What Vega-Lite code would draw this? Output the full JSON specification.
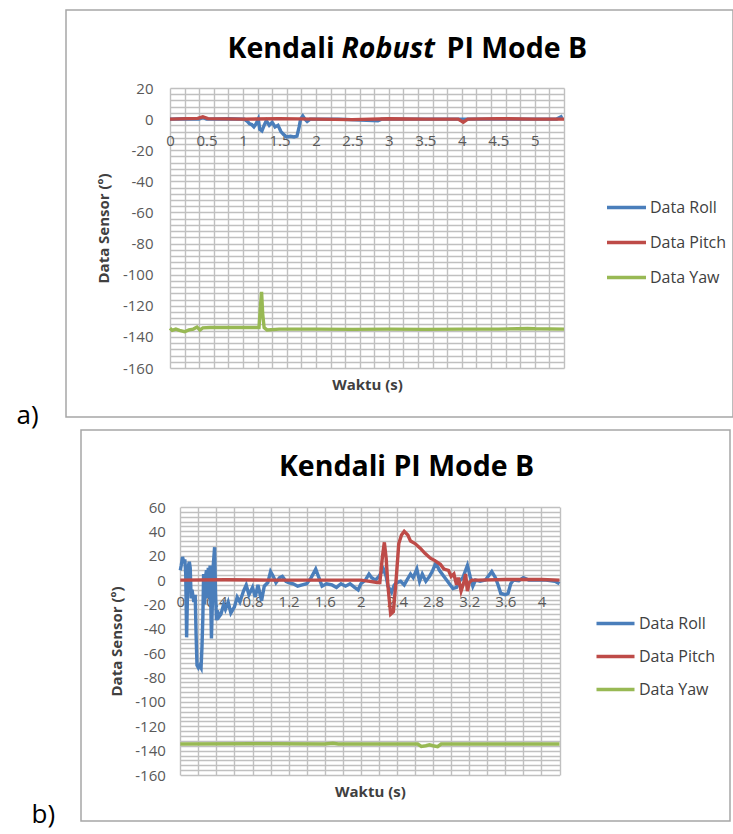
{
  "$schema": "https://vega.github.io/schema/vega-lite/v6.json",
  "padding": {"left": 15, "top": 9, "right": 0, "bottom": 4},
  "background": "white",
  "config": {
    "font": "Open Sans",
    "view": {"stroke": null},
    "axis": {"labelFont": "Open Sans", "titleFont": "Open Sans"},
    "legend": {"labelFont": "Open Sans"}
  },
  "datasets": {
    "a": [
      {"t":0,"v":0,"s":"Data Roll"},{"t":0.2,"v":0.2,"s":"Data Roll"},{"t":0.4,"v":0,"s":"Data Roll"},{"t":0.45,"v":1,"s":"Data Roll"},{"t":0.5,"v":0,"s":"Data Roll"},{"t":0.8,"v":0.2,"s":"Data Roll"},{"t":1.02,"v":0,"s":"Data Roll"},{"t":1.06,"v":-1.5,"s":"Data Roll"},{"t":1.09,"v":-3,"s":"Data Roll"},{"t":1.12,"v":-3.5,"s":"Data Roll"},{"t":1.15,"v":-5,"s":"Data Roll"},{"t":1.18,"v":-3,"s":"Data Roll"},{"t":1.21,"v":0,"s":"Data Roll"},{"t":1.23,"v":-6.5,"s":"Data Roll"},{"t":1.26,"v":-7.5,"s":"Data Roll"},{"t":1.29,"v":-4,"s":"Data Roll"},{"t":1.32,"v":-1,"s":"Data Roll"},{"t":1.36,"v":-4,"s":"Data Roll"},{"t":1.4,"v":-2,"s":"Data Roll"},{"t":1.44,"v":-5,"s":"Data Roll"},{"t":1.48,"v":-4,"s":"Data Roll"},{"t":1.52,"v":-8,"s":"Data Roll"},{"t":1.56,"v":-10,"s":"Data Roll"},{"t":1.6,"v":-11.5,"s":"Data Roll"},{"t":1.65,"v":-11,"s":"Data Roll"},{"t":1.7,"v":-11.5,"s":"Data Roll"},{"t":1.74,"v":-11,"s":"Data Roll"},{"t":1.77,"v":-5,"s":"Data Roll"},{"t":1.79,"v":0,"s":"Data Roll"},{"t":1.82,"v":2,"s":"Data Roll"},{"t":1.85,"v":0,"s":"Data Roll"},{"t":1.88,"v":-1.5,"s":"Data Roll"},{"t":1.92,"v":0,"s":"Data Roll"},{"t":2.3,"v":0,"s":"Data Roll"},{"t":2.85,"v":-1,"s":"Data Roll"},{"t":2.9,"v":0,"s":"Data Roll"},{"t":4,"v":0,"s":"Data Roll"},{"t":5.3,"v":0,"s":"Data Roll"},{"t":5.38,"v":2,"s":"Data Roll"},
      {"t":0,"v":0,"s":"Data Pitch"},{"t":0.38,"v":0.5,"s":"Data Pitch"},{"t":0.45,"v":1.5,"s":"Data Pitch"},{"t":0.52,"v":0.3,"s":"Data Pitch"},{"t":1,"v":0,"s":"Data Pitch"},{"t":1.5,"v":0.3,"s":"Data Pitch"},{"t":2,"v":0,"s":"Data Pitch"},{"t":2.5,"v":-0.3,"s":"Data Pitch"},{"t":3,"v":0.2,"s":"Data Pitch"},{"t":3.5,"v":0,"s":"Data Pitch"},{"t":3.95,"v":0,"s":"Data Pitch"},{"t":4.02,"v":-2,"s":"Data Pitch"},{"t":4.08,"v":0,"s":"Data Pitch"},{"t":4.5,"v":0.3,"s":"Data Pitch"},{"t":5,"v":0,"s":"Data Pitch"},{"t":5.4,"v":0,"s":"Data Pitch"},
      {"t":0,"v":-134.5,"s":"Data Yaw"},{"t":0.03,"v":-135.8,"s":"Data Yaw"},{"t":0.08,"v":-135,"s":"Data Yaw"},{"t":0.13,"v":-135.8,"s":"Data Yaw"},{"t":0.2,"v":-136.7,"s":"Data Yaw"},{"t":0.26,"v":-135.5,"s":"Data Yaw"},{"t":0.32,"v":-135,"s":"Data Yaw"},{"t":0.37,"v":-133.7,"s":"Data Yaw"},{"t":0.41,"v":-135.6,"s":"Data Yaw"},{"t":0.45,"v":-134.2,"s":"Data Yaw"},{"t":0.55,"v":-134,"s":"Data Yaw"},{"t":1,"v":-134,"s":"Data Yaw"},{"t":1.22,"v":-134,"s":"Data Yaw"},{"t":1.24,"v":-120,"s":"Data Yaw"},{"t":1.255,"v":-111,"s":"Data Yaw"},{"t":1.27,"v":-125,"s":"Data Yaw"},{"t":1.29,"v":-134,"s":"Data Yaw"},{"t":1.33,"v":-135.5,"s":"Data Yaw"},{"t":1.5,"v":-135,"s":"Data Yaw"},{"t":2,"v":-135,"s":"Data Yaw"},{"t":2.5,"v":-135.2,"s":"Data Yaw"},{"t":3,"v":-135,"s":"Data Yaw"},{"t":3.5,"v":-135.2,"s":"Data Yaw"},{"t":4,"v":-135,"s":"Data Yaw"},{"t":4.5,"v":-135,"s":"Data Yaw"},{"t":4.9,"v":-134.6,"s":"Data Yaw"},{"t":5,"v":-134.8,"s":"Data Yaw"},{"t":5.4,"v":-135,"s":"Data Yaw"}
    ],
    "b": [
      {"t":0,"v":8,"s":"Data Roll"},{"t":0.01,"v":12,"s":"Data Roll"},{"t":0.025,"v":19,"s":"Data Roll"},{"t":0.04,"v":14,"s":"Data Roll"},{"t":0.05,"v":17,"s":"Data Roll"},{"t":0.06,"v":5,"s":"Data Roll"},{"t":0.07,"v":-47,"s":"Data Roll"},{"t":0.08,"v":-10,"s":"Data Roll"},{"t":0.09,"v":12,"s":"Data Roll"},{"t":0.1,"v":15,"s":"Data Roll"},{"t":0.11,"v":10,"s":"Data Roll"},{"t":0.12,"v":-15,"s":"Data Roll"},{"t":0.13,"v":-8,"s":"Data Roll"},{"t":0.15,"v":-18,"s":"Data Roll"},{"t":0.165,"v":-12,"s":"Data Roll"},{"t":0.175,"v":-45,"s":"Data Roll"},{"t":0.185,"v":-70,"s":"Data Roll"},{"t":0.2,"v":-72,"s":"Data Roll"},{"t":0.215,"v":-70,"s":"Data Roll"},{"t":0.23,"v":-72,"s":"Data Roll"},{"t":0.24,"v":-55,"s":"Data Roll"},{"t":0.25,"v":-30,"s":"Data Roll"},{"t":0.258,"v":5,"s":"Data Roll"},{"t":0.27,"v":-20,"s":"Data Roll"},{"t":0.28,"v":3,"s":"Data Roll"},{"t":0.29,"v":8,"s":"Data Roll"},{"t":0.3,"v":-15,"s":"Data Roll"},{"t":0.31,"v":10,"s":"Data Roll"},{"t":0.32,"v":-8,"s":"Data Roll"},{"t":0.33,"v":12,"s":"Data Roll"},{"t":0.345,"v":-48,"s":"Data Roll"},{"t":0.355,"v":-20,"s":"Data Roll"},{"t":0.365,"v":12,"s":"Data Roll"},{"t":0.38,"v":27,"s":"Data Roll"},{"t":0.39,"v":-10,"s":"Data Roll"},{"t":0.4,"v":-33,"s":"Data Roll"},{"t":0.41,"v":-25,"s":"Data Roll"},{"t":0.43,"v":-30,"s":"Data Roll"},{"t":0.45,"v":-28,"s":"Data Roll"},{"t":0.48,"v":-20,"s":"Data Roll"},{"t":0.5,"v":-24,"s":"Data Roll"},{"t":0.53,"v":-18,"s":"Data Roll"},{"t":0.56,"v":-27,"s":"Data Roll"},{"t":0.6,"v":-22,"s":"Data Roll"},{"t":0.63,"v":-14,"s":"Data Roll"},{"t":0.66,"v":-18,"s":"Data Roll"},{"t":0.7,"v":-9,"s":"Data Roll"},{"t":0.73,"v":-4,"s":"Data Roll"},{"t":0.76,"v":-12,"s":"Data Roll"},{"t":0.8,"v":-6,"s":"Data Roll"},{"t":0.83,"v":-14,"s":"Data Roll"},{"t":0.86,"v":-4,"s":"Data Roll"},{"t":0.9,"v":-17,"s":"Data Roll"},{"t":0.93,"v":-5,"s":"Data Roll"},{"t":0.97,"v":-2,"s":"Data Roll"},{"t":1,"v":7,"s":"Data Roll"},{"t":1.03,"v":3,"s":"Data Roll"},{"t":1.06,"v":-2,"s":"Data Roll"},{"t":1.1,"v":2,"s":"Data Roll"},{"t":1.13,"v":3,"s":"Data Roll"},{"t":1.17,"v":-1,"s":"Data Roll"},{"t":1.2,"v":-2,"s":"Data Roll"},{"t":1.25,"v":-3,"s":"Data Roll"},{"t":1.3,"v":-5,"s":"Data Roll"},{"t":1.35,"v":-4,"s":"Data Roll"},{"t":1.4,"v":-3,"s":"Data Roll"},{"t":1.45,"v":2,"s":"Data Roll"},{"t":1.5,"v":9,"s":"Data Roll"},{"t":1.53,"v":3,"s":"Data Roll"},{"t":1.57,"v":-5,"s":"Data Roll"},{"t":1.62,"v":-3,"s":"Data Roll"},{"t":1.68,"v":-4,"s":"Data Roll"},{"t":1.73,"v":-6,"s":"Data Roll"},{"t":1.78,"v":-3,"s":"Data Roll"},{"t":1.83,"v":-5,"s":"Data Roll"},{"t":1.88,"v":-3,"s":"Data Roll"},{"t":1.93,"v":-6,"s":"Data Roll"},{"t":1.97,"v":-8,"s":"Data Roll"},{"t":2,"v":-3,"s":"Data Roll"},{"t":2.05,"v":0,"s":"Data Roll"},{"t":2.09,"v":5,"s":"Data Roll"},{"t":2.12,"v":2,"s":"Data Roll"},{"t":2.16,"v":0,"s":"Data Roll"},{"t":2.2,"v":3,"s":"Data Roll"},{"t":2.25,"v":9,"s":"Data Roll"},{"t":2.28,"v":3,"s":"Data Roll"},{"t":2.3,"v":-5,"s":"Data Roll"},{"t":2.34,"v":-10,"s":"Data Roll"},{"t":2.37,"v":-4,"s":"Data Roll"},{"t":2.4,"v":-2,"s":"Data Roll"},{"t":2.44,"v":-1,"s":"Data Roll"},{"t":2.48,"v":-4,"s":"Data Roll"},{"t":2.51,"v":0,"s":"Data Roll"},{"t":2.55,"v":5,"s":"Data Roll"},{"t":2.58,"v":2,"s":"Data Roll"},{"t":2.62,"v":9,"s":"Data Roll"},{"t":2.65,"v":-1,"s":"Data Roll"},{"t":2.68,"v":5,"s":"Data Roll"},{"t":2.72,"v":-1,"s":"Data Roll"},{"t":2.76,"v":3,"s":"Data Roll"},{"t":2.79,"v":7,"s":"Data Roll"},{"t":2.83,"v":14,"s":"Data Roll"},{"t":2.87,"v":8,"s":"Data Roll"},{"t":2.92,"v":3,"s":"Data Roll"},{"t":2.97,"v":-2,"s":"Data Roll"},{"t":3.02,"v":-7,"s":"Data Roll"},{"t":3.06,"v":-6,"s":"Data Roll"},{"t":3.09,"v":-1,"s":"Data Roll"},{"t":3.13,"v":2,"s":"Data Roll"},{"t":3.18,"v":12,"s":"Data Roll"},{"t":3.21,"v":3,"s":"Data Roll"},{"t":3.24,"v":-5,"s":"Data Roll"},{"t":3.27,"v":0,"s":"Data Roll"},{"t":3.32,"v":-1,"s":"Data Roll"},{"t":3.38,"v":0,"s":"Data Roll"},{"t":3.45,"v":7,"s":"Data Roll"},{"t":3.49,"v":2,"s":"Data Roll"},{"t":3.52,"v":-4,"s":"Data Roll"},{"t":3.55,"v":-11,"s":"Data Roll"},{"t":3.6,"v":-12,"s":"Data Roll"},{"t":3.63,"v":-11,"s":"Data Roll"},{"t":3.66,"v":-3,"s":"Data Roll"},{"t":3.69,"v":0,"s":"Data Roll"},{"t":3.75,"v":-0.5,"s":"Data Roll"},{"t":3.8,"v":2,"s":"Data Roll"},{"t":3.86,"v":0,"s":"Data Roll"},{"t":3.95,"v":0,"s":"Data Roll"},{"t":4.05,"v":0,"s":"Data Roll"},{"t":4.15,"v":-1,"s":"Data Roll"},{"t":4.2,"v":-3,"s":"Data Roll"},
      {"t":0,"v":0,"s":"Data Pitch"},{"t":0.5,"v":0.3,"s":"Data Pitch"},{"t":1,"v":0,"s":"Data Pitch"},{"t":1.5,"v":0,"s":"Data Pitch"},{"t":2,"v":0,"s":"Data Pitch"},{"t":2.1,"v":-1,"s":"Data Pitch"},{"t":2.18,"v":-2,"s":"Data Pitch"},{"t":2.21,"v":-2,"s":"Data Pitch"},{"t":2.24,"v":20,"s":"Data Pitch"},{"t":2.26,"v":31,"s":"Data Pitch"},{"t":2.28,"v":18,"s":"Data Pitch"},{"t":2.3,"v":-5,"s":"Data Pitch"},{"t":2.33,"v":-28,"s":"Data Pitch"},{"t":2.36,"v":-26,"s":"Data Pitch"},{"t":2.39,"v":0,"s":"Data Pitch"},{"t":2.42,"v":30,"s":"Data Pitch"},{"t":2.45,"v":37,"s":"Data Pitch"},{"t":2.48,"v":40,"s":"Data Pitch"},{"t":2.52,"v":37,"s":"Data Pitch"},{"t":2.55,"v":32,"s":"Data Pitch"},{"t":2.6,"v":30,"s":"Data Pitch"},{"t":2.66,"v":26,"s":"Data Pitch"},{"t":2.71,"v":22,"s":"Data Pitch"},{"t":2.77,"v":18,"s":"Data Pitch"},{"t":2.82,"v":16,"s":"Data Pitch"},{"t":2.88,"v":13,"s":"Data Pitch"},{"t":2.92,"v":9,"s":"Data Pitch"},{"t":2.97,"v":8,"s":"Data Pitch"},{"t":3,"v":3,"s":"Data Pitch"},{"t":3.03,"v":5,"s":"Data Pitch"},{"t":3.06,"v":-4,"s":"Data Pitch"},{"t":3.08,"v":2,"s":"Data Pitch"},{"t":3.11,"v":-9,"s":"Data Pitch"},{"t":3.14,"v":-2,"s":"Data Pitch"},{"t":3.16,"v":5,"s":"Data Pitch"},{"t":3.18,"v":-9,"s":"Data Pitch"},{"t":3.2,"v":-2,"s":"Data Pitch"},{"t":3.23,"v":0,"s":"Data Pitch"},{"t":3.3,"v":0,"s":"Data Pitch"},{"t":3.6,"v":0.5,"s":"Data Pitch"},{"t":4,"v":0.5,"s":"Data Pitch"},{"t":4.2,"v":0,"s":"Data Pitch"},
      {"t":0,"v":-134.5,"s":"Data Yaw"},{"t":1,"v":-134.3,"s":"Data Yaw"},{"t":1.6,"v":-134.5,"s":"Data Yaw"},{"t":1.69,"v":-134,"s":"Data Yaw"},{"t":1.75,"v":-134.6,"s":"Data Yaw"},{"t":2.5,"v":-134.5,"s":"Data Yaw"},{"t":2.63,"v":-134.6,"s":"Data Yaw"},{"t":2.67,"v":-136.5,"s":"Data Yaw"},{"t":2.72,"v":-136,"s":"Data Yaw"},{"t":2.76,"v":-135.2,"s":"Data Yaw"},{"t":2.8,"v":-136,"s":"Data Yaw"},{"t":2.85,"v":-136.8,"s":"Data Yaw"},{"t":2.89,"v":-134.6,"s":"Data Yaw"},{"t":3.5,"v":-134.5,"s":"Data Yaw"},{"t":4.2,"v":-134.5,"s":"Data Yaw"}
    ]
  },
  "vconcat": [
    {
      "hconcat": [
        {
          "width": 667, "height": 407,
          "view": {"stroke": "#a6a6a6", "strokeWidth": 1.5},
          "data": {"name": "a"},
          "layer": [
            {
              "mark": {"type": "line", "strokeWidth": 3.4},
              "encoding": {
                "x": {"field": "t", "type": "quantitative", "scale": {"domain": [0, 5.4], "range": [104, 498], "nice": false, "zero": false},
                  "axis": {"orient": "bottom", "offset": -297.9, "values": [0,0.5,1,1.5,2,2.5,3,3.5,4,4.5,5], "labelExpr": "'' + datum.value", "ticks": false, "domain": false, "grid": false, "labelFlush": false, "labelOverlap": false, "labelPadding": 14, "labelFontSize": 15, "labelColor": "#595959", "title": "Waktu (s)", "titleFontSize": 15, "titleFontWeight": "bold", "titleColor": "#404040", "titleY": 265, "titleBaseline": "middle", "zindex": 0}},
                "y": {"field": "v", "type": "quantitative", "scale": {"domain": [-160, 20], "range": [358, 78], "nice": false, "zero": false},
                  "axis": {"orient": "left", "offset": -104, "values": [-160,-140,-120,-100,-80,-60,-40,-20,0,20], "labelExpr": "'' + datum.value", "ticks": false, "domain": false, "grid": false, "labelPadding": 17, "labelFontSize": 15, "labelColor": "#595959", "title": "Data Sensor (º)", "titleFontSize": 15, "titleFontWeight": "bold", "titleColor": "#404040", "titleX": -67, "titleBaseline": "middle", "zindex": 0}},
                "color": {"field": "s", "type": "nominal", "sort": null,
                  "scale": {"domain": ["Data Roll", "Data Pitch", "Data Yaw"], "range": ["#4a7ebb", "#be4b48", "#98b954"]},
                  "legend": {"title": null, "orient": "none", "legendX": 549, "legendY": 186, "symbolType": "M-2,0H2", "symbolSize": 380, "symbolStrokeWidth": 3.5, "labelOffset": 12, "rowPadding": 15, "labelFontSize": 16, "labelColor": "#404040", "padding": 0}}
              }
            },
            {
              "mark": {"type": "line", "strokeOpacity": 0},
              "encoding": {
                "x": {"field": "t", "type": "quantitative",
                  "axis": {"orient": "top", "values": [0,0.2,0.4,0.6,0.8,1,1.2,1.4,1.6,1.8,2,2.2,2.4,2.6,2.8,3,3.2,3.4,3.6,3.8,4,4.2,4.4,4.6,4.8,5,5.2,5.4], "labels": false, "ticks": false, "domain": false, "grid": true, "gridColor": "#c0c0c0", "gridWidth": 1.4, "title": "Kendali", "titleX": 161, "titleY": 38, "titleAlign": "left", "titleBaseline": "middle", "titleFontSize": 28.5, "titleFontWeight": "bold", "titleColor": "#000000", "zindex": 0}},
                "y": {"field": "v", "type": "quantitative",
                  "axis": {"orient": "left", "values": [-160,-156,-152,-148,-144,-140,-136,-132,-128,-124,-120,-116,-112,-108,-104,-100,-96,-92,-88,-84,-80,-76,-72,-68,-64,-60,-56,-52,-48,-44,-40,-36,-32,-28,-24,-20,-16,-12,-8,-4,0,4,8,12,16,20], "labels": false, "ticks": false, "domain": false, "grid": true, "gridColor": "#c0c0c0", "gridWidth": 1.4, "title": "a)", "titleAngle": 0, "titleX": -50, "titleY": 413, "titleAlign": "left", "titleBaseline": "alphabetic", "titleFontSize": 26, "titleFontWeight": "normal", "titleColor": "#000000", "zindex": 0}}
              }
            },
            {
              "mark": {"type": "line", "strokeOpacity": 0},
              "encoding": {
                "x": {"field": "t", "type": "quantitative",
                  "axis": {"orient": "top", "labels": false, "ticks": false, "domain": false, "grid": false, "title": "Robust", "titleX": 275, "titleY": 38, "titleAlign": "left", "titleBaseline": "middle", "titleFontSize": 28.5, "titleFontWeight": "bold", "titleFontStyle": "italic", "titleColor": "#000000", "zindex": 0}},
                "y": {"field": "v", "type": "quantitative",
                  "axis": {"orient": "left", "labels": false, "ticks": false, "domain": false, "grid": false, "title": "PI Mode B", "titleAngle": 0, "titleX": 380, "titleY": 38, "titleAlign": "left", "titleBaseline": "middle", "titleFontSize": 28.5, "titleFontWeight": "bold", "titleColor": "#000000", "zindex": 0}}
              }
            }
          ],
          "resolve": {"axis": {"x": "independent", "y": "independent"}}
        }
      ]
    },
    {
      "hconcat": [
        {
          "width": 14, "height": 391,
          "view": {"stroke": null},
          "data": {"name": "b"},
          "mark": {"type": "line", "strokeOpacity": 0},
          "encoding": {
            "y": {"field": "v", "type": "quantitative",
              "axis": {"orient": "left", "labels": false, "ticks": false, "domain": false, "grid": false, "title": "b)", "titleAngle": 0, "titleX": -35, "titleY": 392, "titleAlign": "left", "titleBaseline": "alphabetic", "titleFontSize": 26, "titleFontWeight": "normal", "titleColor": "#000000"}}
          }
        },
        {
          "width": 649, "height": 391,
          "view": {"stroke": "#a6a6a6", "strokeWidth": 1.5},
          "data": {"name": "b"},
          "layer": [
            {
              "mark": {"type": "line", "strokeWidth": 3.4},
              "encoding": {
                "x": {"field": "t", "type": "quantitative", "scale": {"domain": [0, 4.2], "range": [99.3, 478.5], "nice": false, "zero": false},
                  "axis": {"orient": "bottom", "offset": -240.9, "values": [0,0.4,0.8,1.2,1.6,2,2.4,2.8,3.2,3.6,4], "labelExpr": "'' + datum.value", "ticks": false, "domain": false, "grid": false, "labelFlush": false, "labelOverlap": false, "labelPadding": 14, "labelFontSize": 15, "labelColor": "#595959", "title": "Waktu (s)", "titleFontSize": 15, "titleFontWeight": "bold", "titleColor": "#404040", "titleY": 211, "titleBaseline": "middle", "zindex": 0}},
                "y": {"field": "v", "type": "quantitative", "scale": {"domain": [-160, 60], "range": [345, 77], "nice": false, "zero": false},
                  "axis": {"orient": "left", "offset": -99.3, "values": [-160,-140,-120,-100,-80,-60,-40,-20,0,20,40,60], "labelExpr": "'' + datum.value", "ticks": false, "domain": false, "grid": false, "labelPadding": 15, "labelFontSize": 15, "labelColor": "#595959", "title": "Data Sensor (º)", "titleFontSize": 15, "titleFontWeight": "bold", "titleColor": "#404040", "titleX": -64, "titleBaseline": "middle", "zindex": 0}},
                "color": {"field": "s", "type": "nominal", "sort": null,
                  "scale": {"domain": ["Data Roll", "Data Pitch", "Data Yaw"], "range": ["#4a7ebb", "#be4b48", "#98b954"]},
                  "legend": {"title": null, "orient": "none", "legendX": 538, "legendY": 182, "symbolType": "M-2,0H2", "symbolSize": 361, "symbolStrokeWidth": 3.5, "labelOffset": 12, "rowPadding": 13, "labelFontSize": 16, "labelColor": "#404040", "padding": 0}}
              }
            },
            {
              "mark": {"type": "line", "strokeOpacity": 0},
              "encoding": {
                "x": {"field": "t", "type": "quantitative",
                  "axis": {"orient": "top", "values": [0,0.2,0.4,0.6,0.8,1,1.2,1.4,1.6,1.8,2,2.2,2.4,2.6,2.8,3,3.2,3.4,3.6,3.8,4,4.2], "labels": false, "ticks": false, "domain": false, "grid": true, "gridColor": "#c0c0c0", "gridWidth": 1.4, "title": "Kendali PI Mode B", "titleX": 325, "titleY": 36, "titleAlign": "center", "titleBaseline": "middle", "titleFontSize": 28.5, "titleFontWeight": "bold", "titleColor": "#000000", "zindex": 0}},
                "y": {"field": "v", "type": "quantitative",
                  "axis": {"orient": "left", "values": [-160,-156,-152,-148,-144,-140,-136,-132,-128,-124,-120,-116,-112,-108,-104,-100,-96,-92,-88,-84,-80,-76,-72,-68,-64,-60,-56,-52,-48,-44,-40,-36,-32,-28,-24,-20,-16,-12,-8,-4,0,4,8,12,16,20,24,28,32,36,40,44,48,52,56,60], "labels": false, "ticks": false, "domain": false, "grid": true, "gridColor": "#c0c0c0", "gridWidth": 1.4, "title": null, "zindex": 0}}
              }
            }
          ],
          "resolve": {"axis": {"x": "independent", "y": "independent"}}
        }
      ],
      "spacing": 0
    }
  ],
  "spacing": 0,
  "resolve": {"scale": {"color": "independent"}, "legend": {"color": "independent"}}
}
